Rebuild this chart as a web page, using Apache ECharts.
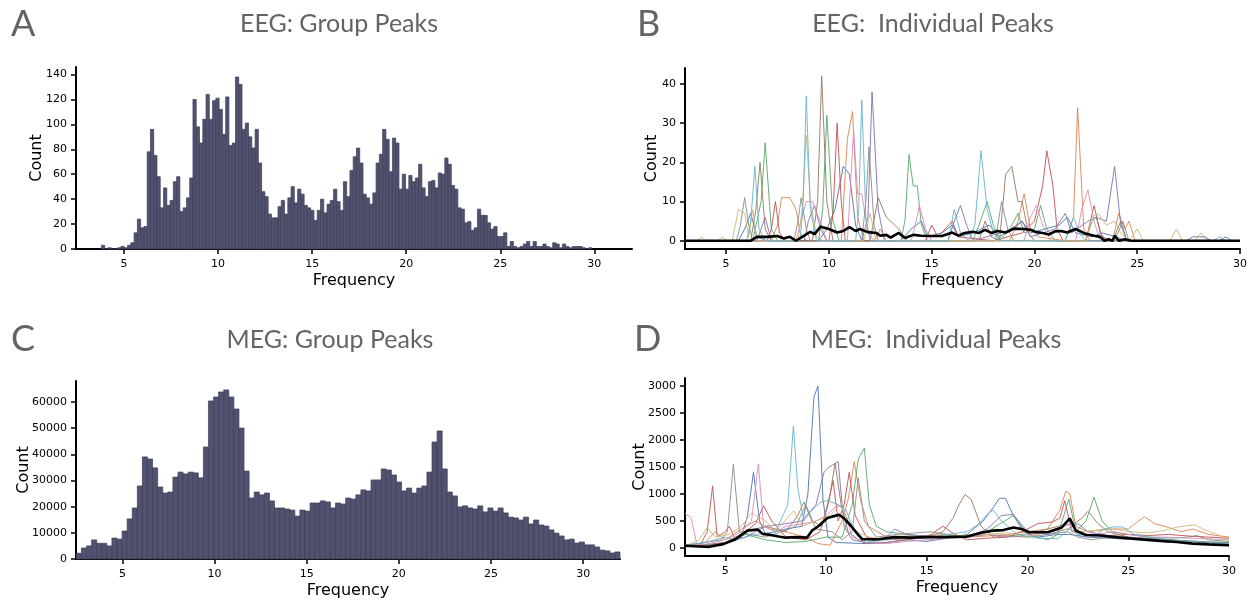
<!DOCTYPE html>
<html>
<head>
<meta charset="utf-8">
<title>EEG / MEG peak frequencies</title>
<script src="https://cdn.jsdelivr.net/npm/echarts@6.0.0/dist/echarts.min.js"></script>
<style>
  html, body { margin: 0; padding: 0; background: #fff; }
  #main { width: 1252px; height: 601px; }
</style>
</head>
<body>
<div id="main"></div>
<script>
// ---- data ----
var freqTicks = [5, 10, 15, 20, 25, 30];

// A: EEG group histogram, 150 bins from 3.8 Hz
var eegBinStart = 3.8, eegBinWidth = 0.1738;
var eegGroupCounts = [
  3, 0, 1, 0, 0, 1, 2, 1, 3, 5,
  13, 24, 17, 18, 78, 96, 75, 58, 33, 49,
  35, 39, 54, 58, 30, 33, 41, 57, 120, 98,
  85, 104, 124, 104, 119, 121, 112, 92, 122, 83,
  85, 138, 132, 96, 101, 90, 81, 96, 69, 46,
  42, 28, 25, 25, 34, 39, 28, 41, 50, 37,
  48, 44, 35, 33, 31, 23, 31, 40, 29, 36,
  39, 48, 38, 31, 54, 42, 63, 74, 81, 69,
  44, 41, 36, 45, 69, 76, 96, 88, 62, 89,
  85, 48, 60, 48, 59, 54, 57, 68, 49, 42,
  54, 55, 49, 61, 60, 73, 68, 51, 48, 33,
  32, 21, 22, 15, 17, 32, 27, 27, 21, 16,
  18, 10, 10, 13, 2, 6, 2, 1, 2, 4,
  6, 2, 6, 2, 2, 4, 2, 1, 5, 4,
  1, 4, 2, 1, 2, 2, 2, 1, 0, 1
];
var eegGroupYTicks = [0, 20, 40, 60, 80, 100, 120, 140];

// C: MEG group histogram, 107 bins from 2.5 Hz
var megBinStart = 2.5, megBinWidth = 0.2757;
var megGroupCounts = [
  2200, 4200, 5000, 7300, 6000, 6000, 5000, 8000, 7600, 10700,
  15300, 19500, 27900, 39000, 38200, 34800, 27500, 25200, 25600, 31300,
  33200, 32500, 33200, 32900, 31000, 42800, 60400, 61900, 63800, 64600,
  61900, 57300, 50000, 33600, 23300, 25600, 24500, 25200, 22200, 19500,
  19500, 19100, 18700, 16400, 18700, 18300, 21400, 21400, 22200, 21800,
  19500, 21400, 21000, 23300, 22900, 24500, 26400, 26000, 30200, 30200,
  34400, 34000, 32100, 29400, 26000, 27100, 25200, 27100, 27900, 33200,
  44700, 48900, 34400, 25600, 24100, 19900, 20300, 19500, 19100, 20300,
  18000, 19500, 18300, 19500, 17600, 16000, 15700, 14900, 16000, 13400,
  14900, 13000, 12600, 11100, 9900, 8800, 7300, 7600, 6100, 6500,
  5400, 5400, 4600, 3400, 3100, 2300, 2700
];
var megGroupYTicks = [0, 10000, 20000, 30000, 40000, 50000, 60000];

// B: EEG individual subjects [freq, count]
var eegBlue = [[3,0],[5.6,0],[5.9,3],[6.2,7],[6.5,1],[7,0],[9.5,0],[9.9,3],[10.3,8],[10.7,19],[11.0,17],[11.3,4],[11.6,0],[13.5,0],[14.0,3],[14.5,5],[14.8,1],[15.5,2],[16.0,4],[16.3,1],[17.0,2],[17.8,4],[18.3,1],[19.4,5],[19.8,2],[21.2,4],[21.6,6],[22.0,2],[22.8,1],[23.3,2],[24.0,1],[24.4,0],[27.4,0],[27.7,1],[28.3,1],[28.6,0],[29.0,0],[29.3,1],[29.6,0],[30,0]];
var eegOrange = [[3,0],[7.2,0],[7.5,4],[7.7,11],[8.1,11],[8.4,8],[8.6,2],[8.9,0],[10.6,0],[10.9,26],[11.15,33],[11.4,6],[11.7,0],[12.2,0],[12.5,3],[12.8,0],[18.8,0],[19.2,5],[19.5,12],[19.8,3],[20.2,1],[21.5,0],[21.9,6],[22.1,34],[22.4,3],[22.7,0],[23.8,0],[24.1,7],[24.4,3],[24.6,5],[24.9,0],[30,0]];
var eegGreen = [[3,0],[6.3,0],[6.7,10],[6.9,25],[7.2,3],[7.5,0],[9.5,0],[9.7,8],[9.9,32],[10.2,5],[10.5,0],[13.5,0],[13.7,5],[13.9,22],[14.1,14],[14.3,14],[14.5,4],[14.8,0],[17.0,0],[17.3,4],[17.7,10],[18.0,4],[18.3,0],[18.8,3],[19.2,7],[19.5,2],[20.0,3],[20.3,9],[20.6,3],[21.0,0],[22.5,0],[22.8,5],[23.0,6],[23.3,1],[23.7,0],[30,0]];
var eegRed = [[3,0],[7.0,0],[7.2,3],[7.4,10],[7.6,2],[7.9,0],[10.0,0],[10.2,7],[10.4,30],[10.6,10],[10.8,0],[14.7,0],[15.0,4],[15.3,1],[16.0,5],[16.3,1],[18.0,0],[19.4,2],[20.0,5],[20.4,14],[20.6,23],[20.9,14],[21.1,3],[21.4,0],[22.5,0],[22.9,9],[23.2,2],[23.5,0],[30,0]];
var eegPurple = [[3,0],[6.5,0],[6.9,6],[7.2,0],[8.8,0],[9.0,5],[9.3,9],[9.6,3],[9.9,0],[11.6,0],[11.9,6],[12.1,38],[12.4,8],[12.7,0],[15.8,0],[16.1,5],[16.4,9],[16.7,4],[17.0,0],[19.0,3],[19.4,5],[19.8,1],[21.0,3],[21.5,7],[21.8,2],[22.6,5],[23.0,6],[23.5,5],[23.9,19],[24.2,4],[24.5,0],[30,0]];
var eegBrown = [[3,0],[6.2,0],[6.45,8],[6.65,20],[6.9,3],[7.2,0],[9.2,0],[9.45,10],[9.65,42],[9.9,10],[10.2,0],[12.0,0],[12.4,11],[12.8,6],[13.4,3],[13.8,0],[17.3,0],[17.6,5],[17.9,1],[18.3,0],[18.6,17],[18.9,19],[19.2,10],[19.4,10],[19.7,2],[20.0,0],[23.8,0],[24.2,5],[24.5,0],[30,0]];
var eegPink = [[3,0],[8.4,0],[8.7,6],[8.9,10],[9.2,10],[9.5,6],[9.9,0],[10.9,0],[11.2,28],[11.4,12],[11.6,12],[11.9,2],[12.2,0],[14.0,0],[14.2,4],[14.4,9],[14.7,3],[15.0,0],[19.5,0],[19.8,6],[20.1,9],[20.4,4],[20.8,0],[22.0,0],[22.3,8],[22.6,13],[22.9,5],[23.2,0],[30,0]];
var eegGray = [[3,0],[5.5,0],[5.7,4],[5.9,11],[6.1,4],[6.3,0],[8.3,0],[8.5,5],[8.65,11],[8.9,3],[9.1,0],[11.6,0],[11.8,10],[11.95,24],[12.2,4],[12.4,0],[18.1,0],[18.4,10],[18.7,3],[19.0,0],[23.9,0],[24.3,5],[24.6,0],[30,0]];
var eegOlive = [[3,0],[3.6,0],[3.8,1],[4.0,0],[4.6,0],[4.8,1],[5.0,0],[5.3,0],[5.6,8],[5.9,7],[6.1,1],[6.3,8],[6.5,0],[8.5,0],[8.7,8],[8.9,27],[9.1,10],[9.4,1],[9.7,0],[11.7,0],[12.0,7],[12.3,0],[22.5,0],[22.8,6],[23.1,7],[23.5,4],[23.9,5],[24.2,2],[24.6,0],[25.0,3],[25.3,0],[26.6,0],[26.9,3],[27.2,0],[27.8,0],[28.1,2],[28.4,0],[30,0]];
var eegCyan = [[3,0],[6.0,0],[6.2,5],[6.4,19],[6.6,3],[6.9,0],[8.6,0],[8.75,10],[8.9,37],[9.1,8],[9.4,0],[11.3,0],[11.45,8],[11.6,36],[11.8,6],[12.0,0],[15.8,0],[16.1,8],[16.4,2],[16.8,0],[17.1,4],[17.4,23],[17.7,8],[18.0,2],[18.3,0],[21.5,0],[21.9,6],[22.2,2],[22.5,0],[28.7,0],[29.0,1],[29.3,0],[30,0]];
var eegMean = [[3,0],[6.2,0],[6.5,1],[7.0,1],[7.5,1.2],[7.8,0.6],[8.1,1],[8.4,0],[8.7,1],[9.1,2.3],[9.3,1.7],[9.6,3.6],[10.0,3.0],[10.4,2.1],[10.7,2.5],[11.0,3.5],[11.3,2.5],[11.5,3.0],[11.9,2.2],[12.3,2.0],[12.5,1.3],[12.8,1.5],[13.0,0.8],[13.4,2.0],[13.7,0.7],[14.1,1.5],[14.5,1.3],[15.0,1.2],[15.5,1.2],[16.0,2.1],[16.3,1.3],[16.6,2.0],[17.0,2.3],[17.3,2.0],[17.6,2.8],[17.9,2.0],[18.2,2.5],[18.6,2.1],[19.0,3.1],[19.5,3.0],[19.8,2.8],[20.1,2.2],[20.4,2.0],[20.7,1.6],[21.0,2.4],[21.3,2.5],[21.6,2.1],[22.0,3.0],[22.4,2.0],[22.9,1.3],[23.2,1.0],[23.4,0],[23.6,0.4],[23.8,0],[23.9,1.3],[24.1,0],[24.4,0.4],[24.7,0],[30,0]];
var eegIndivYTicks = [0, 10, 20, 30, 40];

// D: MEG individual subjects [freq, count]
var megBlue = [[3,30],[4,20],[5,80],[5.8,200],[6.1,600],[6.4,1400],[6.7,500],[7.0,250],[8,350],[8.8,400],[9.1,1000],[9.4,2800],[9.6,3000],[9.85,900],[10.1,200],[10.5,100],[12,80],[13,100],[14,150],[15,120],[16,180],[17,250],[17.8,500],[18.3,750],[18.6,920],[18.9,920],[19.3,600],[19.8,300],[20.5,200],[21.5,250],[22.1,250],[23,200],[24,180],[25,160],[26,130],[27,110],[28,90],[29,60],[30,40]];
var megOrange = [[3,20],[4,100],[4.5,300],[5,150],[6,400],[6.5,500],[7.2,350],[8,300],[9,200],[9.6,80],[10.2,50],[10.8,500],[11.1,900],[11.4,1600],[11.7,900],[12.1,400],[13,200],[14,220],[15,230],[16,250],[17,200],[18,220],[19,250],[20,300],[21,350],[21.6,700],[21.9,1050],[22.1,1000],[22.4,400],[23,300],[24,350],[25,350],[25.8,580],[26.3,450],[27,380],[27.6,300],[28.2,350],[29,250],[30,200]];
var megGreen = [[3,30],[4,50],[5,100],[6,250],[7,150],[8,100],[9,120],[10,200],[10.8,200],[11.3,800],[11.6,1650],[11.9,1850],[12.15,800],[12.5,400],[13,300],[14,250],[15,200],[16,220],[17,230],[18,300],[19.3,600],[20,250],[21,150],[21.5,250],[21.8,600],[22.05,900],[22.4,300],[22.9,500],[23.3,940],[23.7,500],[24.2,300],[25,250],[26,200],[27,180],[28,200],[28.4,230],[29,150],[30,120]];
var megRed = [[3,50],[3.8,80],[4.1,300],[4.37,1150],[4.6,200],[5.0,300],[5.2,400],[5.5,150],[6.0,300],[6.5,450],[6.9,780],[7.3,500],[8,200],[9,150],[9.7,300],[10.1,800],[10.35,1250],[10.6,500],[10.9,800],[11.15,1400],[11.45,600],[12,200],[13,150],[14,170],[15,200],[15.8,400],[16.4,250],[17,150],[18,180],[19,200],[20,350],[20.5,450],[21.2,480],[21.6,550],[21.85,875],[22.2,300],[23,250],[24,230],[25,250],[26,230],[27,250],[28,220],[29,200],[30,180]];
var megPurple = [[3,20],[4,50],[5,80],[6,200],[7,400],[8,450],[8.8,500],[9.5,800],[9.9,1400],[10.15,1500],[10.6,1600],[10.9,400],[11.3,150],[12,100],[13,200],[13.4,350],[14,250],[15,220],[16,200],[17,200],[18,350],[18.7,600],[19.3,620],[20,300],[21,250],[22,350],[22.5,450],[23,300],[24,230],[25,200],[26,180],[27,150],[28,120],[29,100],[30,80]];
var megBrown = [[3,30],[4,60],[5,100],[6,300],[7,400],[8,300],[8.6,600],[8.9,850],[9.3,500],[9.8,400],[10.2,1000],[10.45,1570],[10.75,800],[11.1,300],[11.6,150],[12,80],[13,100],[14,150],[15,200],[15.8,300],[16.3,550],[16.6,800],[16.9,990],[17.2,900],[17.7,400],[18.3,200],[19,220],[19.8,250],[20.5,300],[21.5,400],[22.3,450],[22.7,550],[23.0,680],[23.5,450],[24,300],[25,200],[26,170],[27,150],[28,130],[29,110],[30,100]];
var megPink = [[3,640],[3.3,560],[3.6,50],[4.2,80],[5,150],[5.8,300],[6.3,500],[6.64,1560],[6.9,400],[7.5,300],[8,400],[8.9,450],[9.5,500],[10,600],[10.6,800],[10.9,700],[11.3,200],[12,100],[13,80],[14,120],[15,150],[16,180],[17,200],[18,250],[19,200],[20,220],[21,300],[21.8,400],[22.1,450],[22.5,250],[23.5,260],[24.3,300],[25,250],[26,200],[27,200],[28,180],[29,170],[30,150]];
var megGray = [[3,50],[4,100],[4.8,150],[5.1,300],[5.4,1550],[5.7,300],[6.2,250],[7,200],[7.8,300],[8.5,400],[9.0,800],[9.5,350],[10.3,300],[10.8,150],[11.3,300],[11.6,1300],[11.9,500],[12.5,200],[13.5,250],[14.5,280],[15.2,300],[16,250],[17,200],[18,250],[19,220],[20,200],[21,250],[22,300],[22.5,200],[23.2,150],[24,200],[25,180],[26,160],[27,150],[28,130],[29,110],[30,100]];
var megOlive = [[3,30],[3.7,150],[4.1,380],[4.5,200],[5.2,250],[5.8,400],[6.3,650],[7.0,500],[7.5,300],[8.4,690],[8.8,400],[9.5,500],[10.2,600],[10.7,800],[11.1,500],[11.5,300],[12.5,150],[13.5,180],[15,200],[16.5,220],[18,250],[19,280],[20,200],[21,300],[22,350],[22.6,300],[23.5,330],[24.3,350],[25,300],[26,280],[26.7,320],[27.5,390],[28.3,430],[28.7,350],[29.4,250],[30,150]];
var megCyan = [[3,50],[4,100],[5,200],[5.5,150],[6.5,250],[7.5,300],[8.1,800],[8.38,2260],[8.6,1100],[8.9,500],[9.3,700],[9.75,850],[10.1,880],[10.6,800],[11.0,700],[11.3,400],[12,100],[13,150],[14,200],[15,180],[16,250],[17,300],[17.6,450],[18.1,660],[18.3,700],[18.7,500],[19.5,250],[20.5,180],[21.5,170],[22.1,350],[22.5,250],[23.3,220],[23.8,350],[24.3,390],[24.7,390],[25.3,250],[26,200],[27,150],[28,120],[29,100],[30,80]];
var megMean = [[3,40],[3.5,30],[4.2,20],[4.9,70],[5.5,160],[6.1,320],[6.6,340],[6.85,260],[7.25,240],[7.65,210],[8.0,190],[8.5,200],[9.05,190],[9.3,320],[9.65,410],[10.05,550],[10.3,580],[10.65,615],[10.95,530],[11.3,380],[11.6,240],[11.8,160],[12.6,160],[13.4,200],[14.2,190],[15,200],[15.9,200],[17.0,210],[17.7,280],[18.3,320],[18.8,330],[19.3,380],[19.7,350],[20.1,290],[21.0,290],[21.7,380],[22.1,546],[22.4,320],[22.9,240],[23.6,230],[24.6,190],[25.6,160],[26.6,130],[27.4,110],[28.2,80],[29,65],[30,50]];
var megIndivYTicks = [0, 500, 1000, 1500, 2000, 2500, 3000];

var palette = ['#4C72B0', '#DD8452', '#55A868', '#C44E52', '#8172B3',
               '#937860', '#DA8BC3', '#8C8C8C', '#CCB974', '#64B5CD'];
var eegSubjects = [eegBlue, eegOrange, eegGreen, eegRed, eegPurple, eegBrown, eegPink, eegGray, eegOlive, eegCyan];
var megSubjects = [megBlue, megOrange, megGreen, megRed, megPurple, megBrown, megPink, megGray, megOlive, megCyan];

// ---- chart ----
var myChart = echarts.init(document.getElementById('main'));

var tickFont = 'DejaVu Sans';
function plain(v) { return String(v); }  // no thousands separator

function xAxisFor(grid, min, max) {
    return {
        type: 'value', gridIndex: grid, min: min, max: max,
        name: 'Frequency', nameLocation: 'middle', nameGap: 24,
        nameTextStyle: { fontFamily: tickFont, fontSize: 16, color: '#000' },
        axisLine: { onZero: false, lineStyle: { color: '#000', width: 2 } },
        axisTick: { customValues: freqTicks, length: 5, lineStyle: { color: '#000', width: 1.5 } },
        axisLabel: { customValues: freqTicks, formatter: plain, fontFamily: tickFont, fontSize: 11, color: '#000', margin: 10 },
        splitLine: { show: false }
    };
}

function yAxisFor(grid, min, max, ticks, gap) {
    return {
        type: 'value', gridIndex: grid, min: min, max: max,
        name: 'Count', nameLocation: 'middle', nameGap: gap, nameRotate: 90,
        nameMoveOverlap: false,
        nameTextStyle: { fontFamily: tickFont, fontSize: 16, color: '#000' },
        axisLine: { show: true, onZero: false, lineStyle: { color: '#000', width: 2 } },
        axisTick: { show: true, customValues: ticks, length: 5, lineStyle: { color: '#000', width: 1.5 } },
        axisLabel: { customValues: ticks, formatter: plain, fontFamily: tickFont, fontSize: 11, color: '#000', margin: 9 },
        splitLine: { show: false }
    };
}

// bars drawn from bin edges through the axis scales
function histSeries(idx, start, width, counts) {
    var data = counts.map(function (c, i) { return [start + (i + 0.5) * width, c]; });
    return {
        type: 'custom', xAxisIndex: idx, yAxisIndex: idx, data: data,
        renderItem: function (params, api) {
            var mid = api.value(0), c = api.value(1);
            var p0 = api.coord([mid - width / 2, c]);
            var p1 = api.coord([mid + width / 2, 0]);
            return {
                type: 'rect',
                shape: { x: p0[0], y: p0[1], width: p1[0] - p0[0], height: p1[1] - p0[1] },
                style: { fill: '#50526f', stroke: '#3c3e58', lineWidth: 0.7 }
            };
        }
    };
}

function lineSeries(idx, data, color, width, z) {
    return {
        type: 'line', xAxisIndex: idx, yAxisIndex: idx, data: data,
        showSymbol: false, symbol: 'none', z: z,
        lineStyle: { color: color, width: width, opacity: width > 2 ? 1 : 0.9 },
        itemStyle: { color: color }
    };
}

var series = [
    histSeries(0, eegBinStart, eegBinWidth, eegGroupCounts),
    histSeries(2, megBinStart, megBinWidth, megGroupCounts)
];
eegSubjects.forEach(function (s, i) { series.push(lineSeries(1, s, palette[i], 1, 2)); });
series.push(lineSeries(1, eegMean, '#000', 2.6, 5));
megSubjects.forEach(function (s, i) { series.push(lineSeries(3, s, palette[i], 1, 2)); });
series.push(lineSeries(3, megMean, '#000', 2.6, 5));

var titleFont = 'Lato';
function label(text, x, y, size, align) {
    return {
        type: 'text', x: x, y: y,
        style: { text: text, fill: '#646464', font: size + 'px ' + titleFont,
                 textAlign: align, textVerticalAlign: 'middle' }
    };
}

var option = {
    backgroundColor: '#fff',
    animation: false,
    grid: [
        { left: 76, top: 67, width: 556, height: 182 },
        { left: 685, top: 68, width: 555, height: 181 },
        { left: 76, top: 381, width: 544, height: 178 },
        { left: 685, top: 378, width: 544, height: 178 }
    ],
    xAxis: [
        xAxisFor(0, 2.45, 32),
        xAxisFor(1, 3, 30),
        xAxisFor(2, 2.48, 32),
        xAxisFor(3, 3, 30)
    ],
    yAxis: [
        yAxisFor(0, 0, 146, eegGroupYTicks, 31),
        yAxisFor(1, -2.1, 44.1, eegIndivYTicks, 25),
        yAxisFor(2, 0, 68000, megGroupYTicks, 44),
        yAxisFor(3, -150, 3150, megIndivYTicks, 37)
    ],
    graphic: [
        label('A', 11, 24, 36, 'left'),
        label('B', 637, 24, 36, 'left'),
        label('C', 11, 339, 36, 'left'),
        label('D', 634, 339, 36, 'left'),
        label('EEG: Group Peaks', 339, 24, 25, 'center'),
        label('EEG:  Individual Peaks', 933, 24, 25, 'center'),
        label('MEG: Group Peaks', 330, 340, 25, 'center'),
        label('MEG:  Individual Peaks', 936, 340, 25, 'center')
    ],
    series: series
};

myChart.setOption(option);
</script>
</body>
</html>
